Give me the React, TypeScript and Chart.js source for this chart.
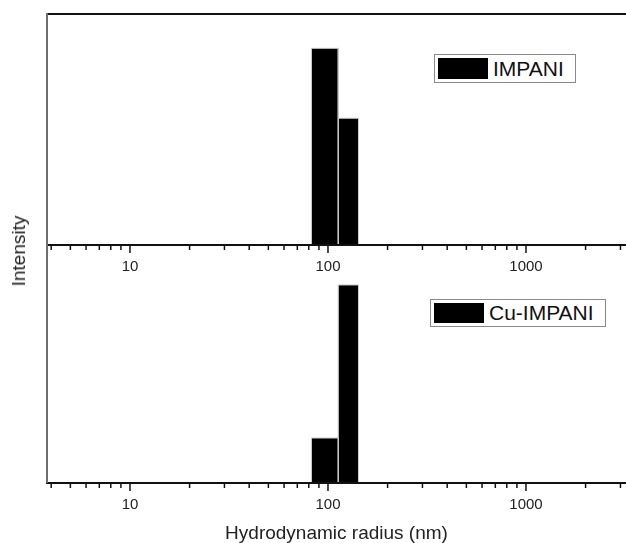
import React, { useEffect, useRef } from "react";
import { Chart, registerables } from "chart.js";

Chart.register(...registerables);

// ---- data ----
const BIN_EDGES = [82.5, 112.7, 142.6]; // hydrodynamic radius bin edges (nm)
const IMPANI_VALUES = [61.3, 39.5];
const CU_IMPANI_VALUES = [18.9, 83.2];
const TOP_Y_MAX = 72;
const BOTTOM_Y_MAX = 100;
const X_MIN = 3.81;
const X_MAX = 3200;
const TICK_VALUES = [4, 5, 6, 7, 8, 9, 10, 20, 30, 40, 50, 60, 70, 80, 90, 100, 200, 300, 400, 500, 600, 700, 800, 900, 1000, 2000, 3000];
const MAJOR_TICKS = [10, 100, 1000];
const SERIES_LABELS = ["IMPANI", "Cu-IMPANI"];
const X_TITLE = "Hydrodynamic radius (nm)";
const Y_TITLE = "Intensity";

const FONT = '"Liberation Sans", Arial, Helvetica, sans-serif';

function binDatasets(values: number[]) {
  return values.map((v, i) => ({
    label: "bin" + i,
    data: [
      { x: BIN_EDGES[i], y: 0 },
      { x: BIN_EDGES[i], y: v },
      { x: BIN_EDGES[i + 1], y: v },
      { x: BIN_EDGES[i + 1], y: 0 },
    ],
    fill: "origin",
    backgroundColor: "#000",
    borderColor: "#c8c8c8",
    borderWidth: 1,
    pointRadius: 0,
    pointHoverRadius: 0,
    tension: 0,
  }));
}

function framePlugin(drawTop: boolean) {
  return {
    id: "frame",
    afterDraw(chart: any) {
      const { ctx, chartArea } = chart;
      const { left, right, top, bottom } = chartArea;
      const xs = chart.scales.x;
      ctx.save();
      ctx.lineCap = "butt";
      ctx.strokeStyle = "#111";
      ctx.lineWidth = 1.5;
      for (const v of TICK_VALUES) {
        const px = xs.getPixelForValue(v);
        if (px < left - 1 || px > right + 1) continue;
        const len = MAJOR_TICKS.includes(v) ? 8 : 5;
        ctx.beginPath();
        ctx.moveTo(px, bottom);
        ctx.lineTo(px, bottom + len);
        ctx.stroke();
      }
      ctx.lineWidth = 2;
      ctx.beginPath();
      ctx.moveTo(left - 1, bottom);
      ctx.lineTo(right, bottom);
      ctx.stroke();
      if (drawTop) {
        ctx.lineWidth = 2;
        ctx.beginPath();
        ctx.moveTo(left - 1, top);
        ctx.lineTo(right, top);
        ctx.stroke();
      }
      ctx.strokeStyle = "#6e6e6e";
      ctx.lineWidth = 2;
      ctx.beginPath();
      ctx.moveTo(left, top - (drawTop ? 1 : 0));
      ctx.lineTo(left, bottom);
      ctx.stroke();
      ctx.restore();
    },
  };
}

function makeConfig(values: number[], yMax: number, drawTop: boolean, padTop: number, axisHeight: number, showTitle: boolean) {
  return {
    type: "line" as const,
    data: { datasets: binDatasets(values) },
    plugins: [framePlugin(drawTop)],
    options: {
      animation: false as const,
      responsive: false,
      events: [],
      layout: { autoPadding: false, padding: { left: 47, top: padTop, right: 0, bottom: 0 } },
      plugins: { legend: { display: false }, tooltip: { enabled: false } },
      scales: {
        x: {
          type: "logarithmic" as const,
          position: "bottom" as const,
          min: X_MIN,
          max: X_MAX,
          grid: { display: false, drawTicks: false },
          border: { display: false },
          ticks: {
            autoSkip: false,
            maxRotation: 0,
            minRotation: 0,
            padding: 13,
            color: "#222",
            font: { family: FONT, size: 15 },
            callback: (v: any) => (MAJOR_TICKS.includes(Number(v)) ? String(v) : ""),
          },
          title: {
            display: showTitle,
            text: X_TITLE,
            color: "#222",
            font: { family: FONT, size: 19 },
            padding: { top: 0, bottom: 5 },
          },
          afterBuildTicks: (s: any) => {
            s.ticks = TICK_VALUES.filter((v) => v >= X_MIN && v <= X_MAX).map((v) => ({ value: v }));
          },
          afterFit: (s: any) => {
            s.height = axisHeight;
            s.paddingLeft = 0;
            s.paddingRight = 0;
          },
        },
        y: { type: "linear" as const, min: 0, max: yMax, display: false },
      },
    },
  };
}

function Legend({ label, left, top, width, height }: { label: string; left: number; top: number; width: number; height: number }) {
  return (
    <div
      style={{
        position: "absolute",
        left,
        top,
        width,
        height,
        boxSizing: "border-box",
        border: "1px solid #8a8a8a",
        background: "#fff",
        fontFamily: FONT,
      }}
    >
      <div style={{ position: "absolute", left: 3, top: 3, width: 50, height: height - 8, background: "#000" }} />
      <div
        style={{
          position: "absolute",
          left: 58,
          top: 0,
          height: height - 2,
          lineHeight: height - 2 + "px",
          fontSize: 21,
          color: "#111",
          whiteSpace: "nowrap",
        }}
      >
        {label}
      </div>
    </div>
  );
}

export default function App() {
  const topRef = useRef<HTMLCanvasElement>(null);
  const botRef = useRef<HTMLCanvasElement>(null);

  useEffect(() => {
    const c1 = new Chart(topRef.current as HTMLCanvasElement, makeConfig(IMPANI_VALUES, TOP_Y_MAX, true, 14, 45, false) as any);
    const c2 = new Chart(botRef.current as HTMLCanvasElement, makeConfig(CU_IMPANI_VALUES, BOTTOM_Y_MAX, false, 5, 67, true) as any);
    return () => {
      c1.destroy();
      c2.destroy();
    };
  }, []);

  return (
    <div style={{ position: "absolute", left: 0, top: 0, width: 626, height: 543, background: "#fff", overflow: "hidden" }}>
      <canvas ref={topRef} width={626} height={290} style={{ position: "absolute", left: 0, top: 0, width: 626, height: 290 }} />
      <canvas ref={botRef} width={626} height={310} style={{ position: "absolute", left: 0, top: 240, width: 626, height: 310 }} />
      <div
        style={{
          position: "absolute",
          left: 19,
          top: 251,
          transform: "translate(-50%, -50%) rotate(-90deg)",
          fontFamily: FONT,
          fontSize: 19,
          color: "#222",
          whiteSpace: "nowrap",
        }}
      >
        {Y_TITLE}
      </div>
      <Legend label={SERIES_LABELS[0]} left={434} top={54} width={142} height={29} />
      <Legend label={SERIES_LABELS[1]} left={430} top={299} width={176} height={28} />
    </div>
  );
}
